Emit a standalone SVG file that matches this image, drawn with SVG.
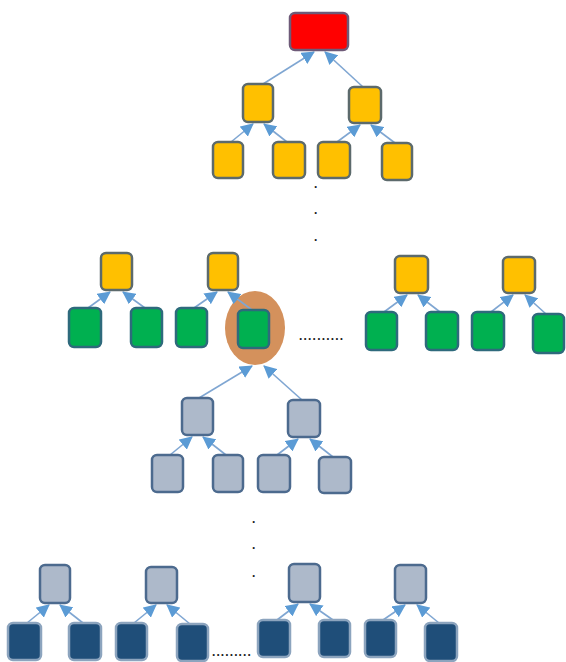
<svg xmlns="http://www.w3.org/2000/svg" width="566" height="662" viewBox="0 0 566 662">
<style>
.n{stroke-width:2.5}
.red{fill:#FF0000;stroke:#6E5A78}
.yel{fill:#FFC000;stroke:#5C6A6C}
.grn{fill:#00B050;stroke:#2E6A7C}
.gry{fill:#ADB9CA;stroke:#4C6A8E}
.dbl{fill:#1F4E79;stroke:#8CA4BE}
.c line{stroke:#7FA6D2;stroke-width:1.6;marker-end:url(#ah)}
.dot{font-family:"Liberation Sans",Arial,sans-serif;font-size:12px;font-weight:bold;fill:#222}
</style>
<defs>
<marker id="ah" markerUnits="userSpaceOnUse" markerWidth="13" markerHeight="13" refX="12" refY="6.5" orient="auto" viewBox="0 0 13 13">
<path d="M0,0 L13,6.5 L0,13 z" fill="#5B9BD5"/>
</marker>
</defs>
<rect width="566" height="662" fill="#fff"/>
<g id="highlight"><ellipse cx="255" cy="328" rx="30" ry="37" fill="#D4915C"/></g>
<g id="connectors" class="c">
<line x1="263" y1="84" x2="314" y2="52"/>
<line x1="363" y1="87" x2="325" y2="52"/>
<line x1="231" y1="142" x2="253" y2="124"/>
<line x1="287" y1="142" x2="264" y2="124"/>
<line x1="337" y1="142" x2="360" y2="125"/>
<line x1="395" y1="143" x2="371" y2="125"/>
<line x1="88" y1="308" x2="110" y2="292"/>
<line x1="145" y1="308" x2="123" y2="292"/>
<line x1="194" y1="308" x2="217" y2="292"/>
<line x1="252" y1="310" x2="228" y2="292"/>
<line x1="384" y1="312" x2="407" y2="295"/>
<line x1="440" y1="312" x2="418" y2="295"/>
<line x1="491" y1="312" x2="513" y2="295"/>
<line x1="546" y1="314" x2="525" y2="295"/>
<line x1="199" y1="398" x2="252" y2="366"/>
<line x1="302" y1="400" x2="264" y2="366"/>
<line x1="170" y1="455" x2="192" y2="437"/>
<line x1="226" y1="455" x2="203" y2="437"/>
<line x1="277" y1="455" x2="298" y2="439"/>
<line x1="333" y1="457" x2="310" y2="439"/>
<line x1="27" y1="623" x2="49" y2="605"/>
<line x1="83" y1="623" x2="60" y2="605"/>
<line x1="134" y1="623" x2="156" y2="605"/>
<line x1="190" y1="624" x2="167" y2="605"/>
<line x1="277" y1="620" x2="298" y2="604"/>
<line x1="333" y1="620" x2="310" y2="604"/>
<line x1="383" y1="620" x2="405" y2="605"/>
<line x1="439" y1="623" x2="417" y2="605"/>
</g>
<g id="root"><rect class="n red" x="290" y="13" width="58" height="37" rx="5"/></g>
<g id="y1"><rect class="n yel" x="243" y="84" width="30" height="38" rx="5"/></g>
<g id="y2"><rect class="n yel" x="349" y="87" width="32" height="36" rx="5"/></g>
<g id="y3"><rect class="n yel" x="213" y="142" width="30" height="36" rx="5"/></g>
<g id="y4"><rect class="n yel" x="273" y="142" width="32" height="36" rx="5"/></g>
<g id="y5"><rect class="n yel" x="318" y="142" width="32" height="36" rx="5"/></g>
<g id="y6"><rect class="n yel" x="382" y="143" width="30" height="37" rx="5"/></g>
<g id="y7"><rect class="n yel" x="101" y="253" width="31" height="37" rx="5"/></g>
<g id="y8"><rect class="n yel" x="208" y="253" width="30" height="37" rx="5"/></g>
<g id="y9"><rect class="n yel" x="395" y="256" width="33" height="37" rx="5"/></g>
<g id="y10"><rect class="n yel" x="503" y="257" width="32" height="36" rx="5"/></g>
<g id="g1"><rect class="n grn" x="69" y="308" width="32" height="39" rx="5"/></g>
<g id="g2"><rect class="n grn" x="131" y="308" width="31" height="39" rx="5"/></g>
<g id="g3"><rect class="n grn" x="176" y="308" width="31" height="39" rx="5"/></g>
<g id="g4"><rect class="n grn" x="238" y="310" width="31" height="38" rx="5"/></g>
<g id="g5"><rect class="n grn" x="366" y="312" width="31" height="38" rx="5"/></g>
<g id="g6"><rect class="n grn" x="426" y="312" width="32" height="38" rx="5"/></g>
<g id="g7"><rect class="n grn" x="472" y="312" width="32" height="38" rx="5"/></g>
<g id="g8"><rect class="n grn" x="533" y="314" width="31" height="39" rx="5"/></g>
<g id="b1"><rect class="n gry" x="182" y="398" width="31" height="37" rx="5"/></g>
<g id="b2"><rect class="n gry" x="288" y="400" width="32" height="37" rx="5"/></g>
<g id="b3"><rect class="n gry" x="152" y="455" width="31" height="37" rx="5"/></g>
<g id="b4"><rect class="n gry" x="213" y="455" width="30" height="37" rx="5"/></g>
<g id="b5"><rect class="n gry" x="258" y="455" width="32" height="37" rx="5"/></g>
<g id="b6"><rect class="n gry" x="319" y="457" width="32" height="36" rx="5"/></g>
<g id="b7"><rect class="n gry" x="40" y="565" width="30" height="38" rx="5"/></g>
<g id="b8"><rect class="n gry" x="146" y="567" width="31" height="36" rx="5"/></g>
<g id="b9"><rect class="n gry" x="289" y="564" width="31" height="38" rx="5"/></g>
<g id="b10"><rect class="n gry" x="395" y="565" width="31" height="38" rx="5"/></g>
<g id="d1"><rect class="n dbl" x="8" y="623" width="33" height="37" rx="5"/></g>
<g id="d2"><rect class="n dbl" x="69" y="623" width="32" height="37" rx="5"/></g>
<g id="d3"><rect class="n dbl" x="116" y="623" width="31" height="37" rx="5"/></g>
<g id="d4"><rect class="n dbl" x="177" y="624" width="31" height="37" rx="5"/></g>
<g id="d5"><rect class="n dbl" x="258" y="620" width="32" height="37" rx="5"/></g>
<g id="d6"><rect class="n dbl" x="319" y="620" width="31" height="37" rx="5"/></g>
<g id="d7"><rect class="n dbl" x="365" y="620" width="31" height="37" rx="5"/></g>
<g id="d8"><rect class="n dbl" x="425" y="623" width="32" height="38" rx="5"/></g>
<g id="dots">
<text class="dot" x="314" y="188">.</text>
<text class="dot" x="314" y="214">.</text>
<text class="dot" x="314" y="241">.</text>
<text class="dot" x="252" y="523">.</text>
<text class="dot" x="252" y="549">.</text>
<text class="dot" x="252" y="577">.</text>
<text class="dot" x="299" y="340" letter-spacing="1.2">..........</text>
<text class="dot" x="212" y="656" letter-spacing="1.1">.........</text>
</g>
</svg>
